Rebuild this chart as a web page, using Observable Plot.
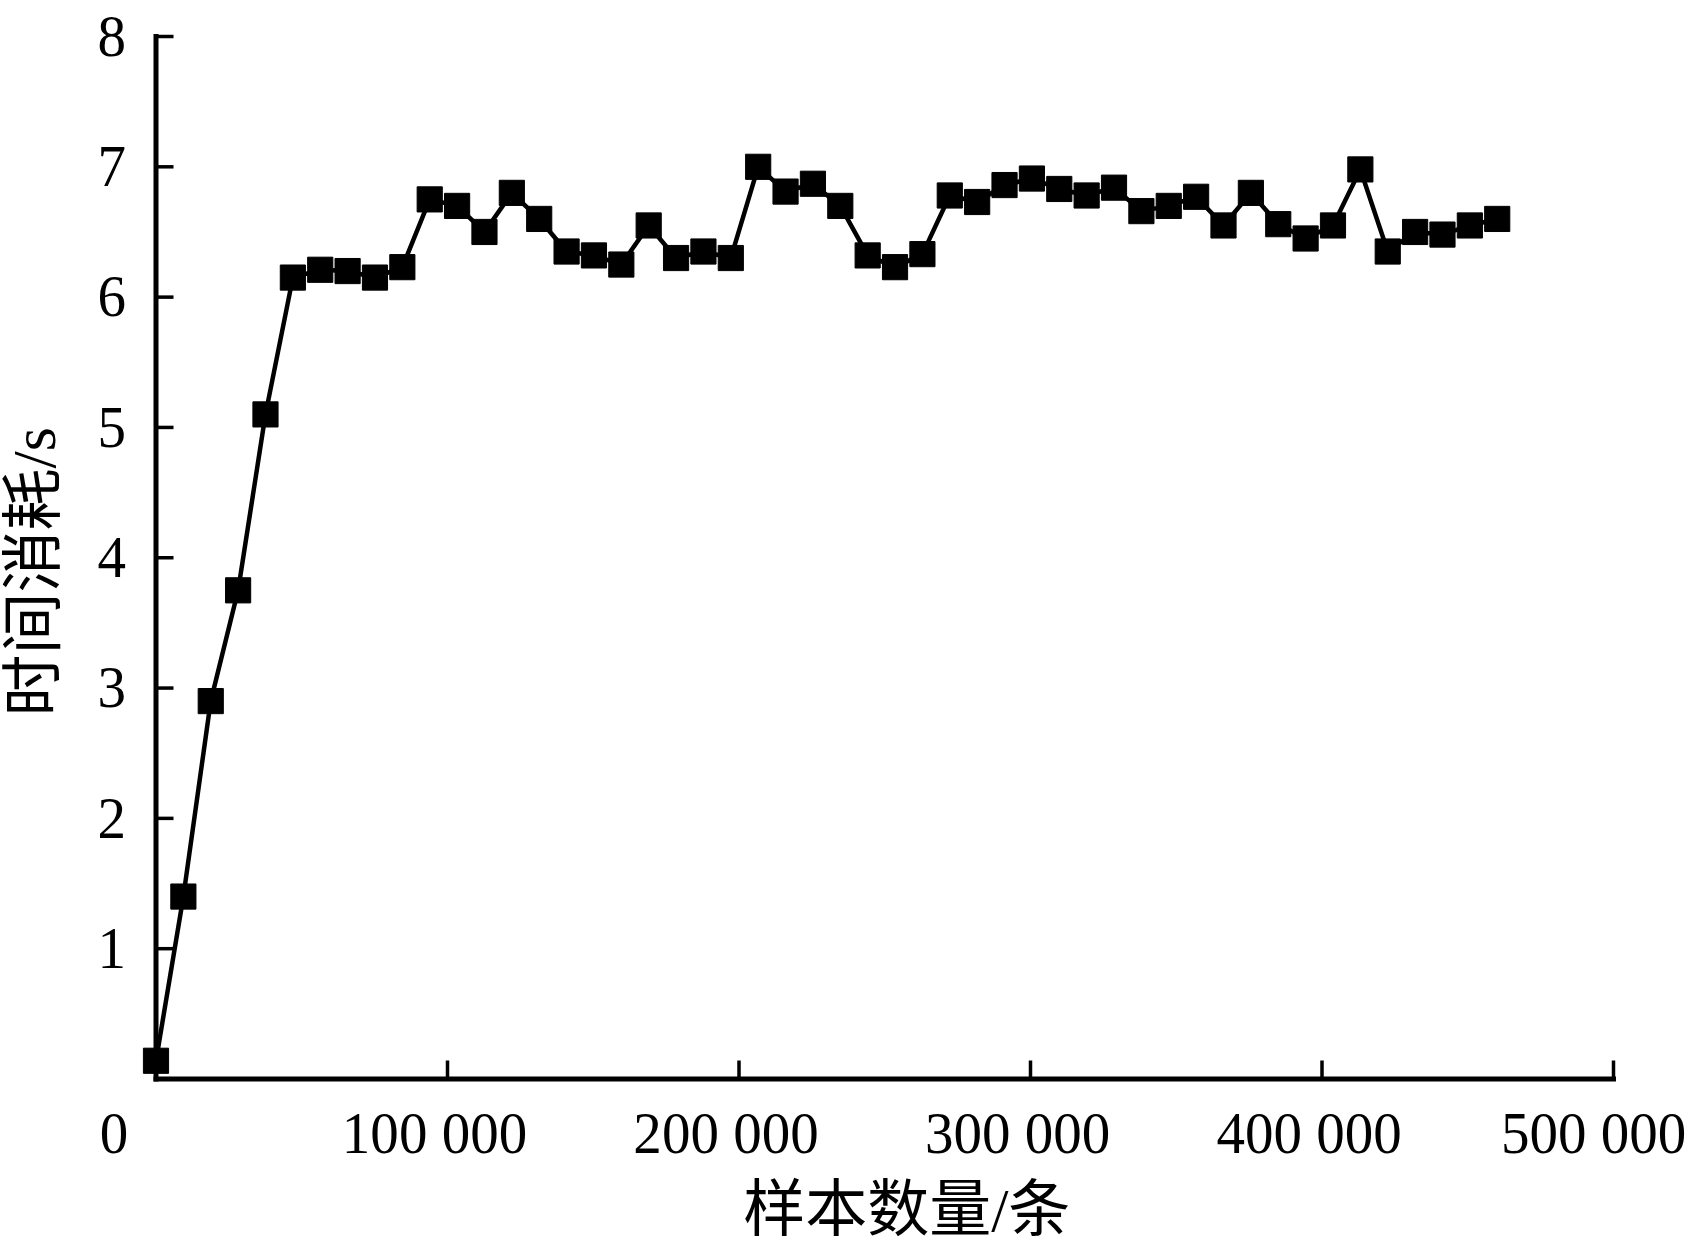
<!DOCTYPE html>
<html>
<head>
<meta charset="utf-8">
<script src="https://cdn.jsdelivr.net/npm/d3@7"></script>
<script src="https://cdn.jsdelivr.net/npm/@observablehq/plot@0.6"></script>
<style>
  html, body { margin: 0; padding: 0; background: #fff; }
  #chart svg { display: block; }
</style>
</head>
<body>
<div id="chart"></div>
<script>
const sampleCounts = [0, 9390, 18780, 28170, 37560, 46950, 56340, 65730, 75120, 84510,
  93900, 103290, 112680, 122070, 131460, 140850, 150240, 159630, 169020, 178410,
  187800, 197190, 206580, 215970, 225360, 234750, 244140, 253530, 262920, 272310,
  281700, 291090, 300480, 309870, 319260, 328650, 338040, 347430, 356820, 366210,
  375600, 384990, 394380, 403770, 413160, 422550, 431940, 441330, 450720, 460110];
const timeCost = [0.14, 1.40, 2.90, 3.75, 5.10, 6.15, 6.21, 6.20, 6.15, 6.23,
  6.75, 6.70, 6.50, 6.80, 6.60, 6.35, 6.32, 6.25, 6.55, 6.30,
  6.35, 6.30, 7.00, 6.81, 6.87, 6.70, 6.32, 6.23, 6.33, 6.78,
  6.73, 6.86, 6.91, 6.83, 6.78, 6.84, 6.66, 6.70, 6.77, 6.55,
  6.80, 6.56, 6.45, 6.55, 6.98, 6.35, 6.50, 6.48, 6.55, 6.60];
const xTicks = [100000, 200000, 300000, 400000, 500000];
const xTickLabels = ["100 000", "200 000", "300 000", "400 000", "500 000"];
const originLabel = "0";
const yTicks = [1, 2, 3, 4, 5, 6, 7, 8];
const yTickLabels = ["1", "2", "3", "4", "5", "6", "7", "8"];
const xTitle = "样本数量/条";
const yTitle = "时间消耗/s";

const data = sampleCounts.map((x, i) => ({x, y: timeCost[i]}));
const xLabelMap = new Map(xTicks.map((t, i) => [t, xTickLabels[i]]));
const yLabelMap = new Map(yTicks.map((t, i) => [t, yTickLabels[i]]));
const innerXTicks = xTicks.slice(0, -1);
const lastXTick = xTicks.slice(-1);

const chart = Plot.plot({
  width: 1698,
  height: 1251,
  marginLeft: 155.5,
  marginRight: 85,
  marginTop: 36,
  marginBottom: 172.5,
  x: {domain: [0, 500000]},
  y: {domain: [0, 8]},
  style: {
    fontFamily: "'Liberation Serif', 'Noto Sans CJK SC', serif",
    background: "white",
    color: "black"
  },
  marks: [
    // inward tick marks
    Plot.axisY(yTicks, {tickSize: 18, dx: 18, strokeWidth: 3.5, tickFormat: () => "", label: null}),
    Plot.axisX(xTicks, {tickSize: 18, dy: -18, strokeWidth: 3.5, tickFormat: () => "", label: null}),
    // tick labels
    Plot.axisY(yTicks, {tickSize: 0, tickPadding: 30, fontSize: 60, dy: 0,
      tickFormat: d => yLabelMap.get(d), label: null}),
    Plot.axisX(innerXTicks, {tickSize: 0, tickPadding: 31, fontSize: 60, dx: -13,
      tickFormat: d => xLabelMap.get(d), label: null}),
    Plot.axisX(lastXTick, {tickSize: 0, tickPadding: 31, fontSize: 60, dx: -20,
      tickFormat: d => xLabelMap.get(d), label: null}),
    Plot.axisX([0], {tickSize: 0, tickPadding: 31, fontSize: 60, dx: -42,
      tickFormat: () => originLabel, label: null}),
    Plot.frame({anchor: "left", strokeWidth: 5, strokeLinecap: "square"}),
    Plot.frame({anchor: "bottom", strokeWidth: 5, strokeLinecap: "square"}),
    Plot.line(data, {x: "x", y: "y", stroke: "black", strokeWidth: 4.5}),
    Plot.dot(data, {x: "x", y: "y", symbol: "square", r: 14.2, fill: "black",
      stroke: "black", strokeWidth: 1, strokeLinejoin: "round"}),
    Plot.text([xTitle], {text: d => d, frameAnchor: "bottom", dx: 22, dy: 132,
      fontSize: 62, lineAnchor: "middle", textAnchor: "middle"}),
    Plot.text([yTitle], {text: d => d, frameAnchor: "left", rotate: -90, dx: -121, dy: 14,
      fontSize: 62, lineAnchor: "middle", textAnchor: "middle"})
  ]
});
document.getElementById("chart").appendChild(chart);

// condense tick-label glyphs slightly, as in the original typesetting
d3.select(chart)
  .selectAll('g[aria-label="x-axis tick label"] text, g[aria-label="y-axis tick label"] text')
  .each(function () {
    const w = this.getComputedTextLength();
    if (w > 0) {
      this.setAttribute("textLength", w * 0.95);
      this.setAttribute("lengthAdjust", "spacingAndGlyphs");
    }
  });
</script>
</body>
</html>
